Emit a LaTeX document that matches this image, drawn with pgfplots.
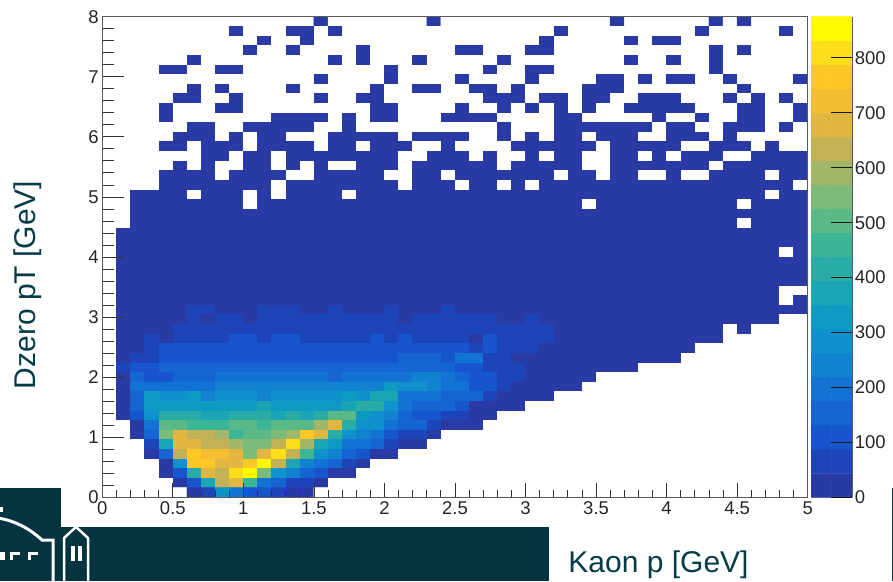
\documentclass[border=0pt]{standalone}
\usepackage{pgfplots}
\pgfplotsset{compat=1.18}
\usepackage{fontspec}
\setmainfont{Liberation Sans}
\definecolor{teal0}{RGB}{3,52,64}
\definecolor{teal1}{RGB}{5,60,72}
\pgfplotsset{
  colormap={rootbird}{
    rgb255=(255,255,255) rgb255=(42,58,165) rgb255=(30,68,185) rgb255=(22,85,205) rgb255=(20,100,210)
    rgb255=(18,115,212) rgb255=(16,130,208) rgb255=(14,145,205) rgb255=(14,155,195) rgb255=(25,165,180)
    rgb255=(40,172,165) rgb255=(60,180,150) rgb255=(90,185,135) rgb255=(125,187,120) rgb255=(160,182,105)
    rgb255=(195,178,85) rgb255=(225,182,65) rgb255=(245,190,50) rgb255=(253,200,38) rgb255=(253,222,25)
    rgb255=(255,250,0)},
  colormap access=piecewise constant,
  point meta min=-43.75, point meta max=875
}
\begin{document}
\begin{tikzpicture}[x=1pt,y=1pt]
\path[use as bounding box] (0,0) rectangle (893,581);
% main histogram, x ticks
\begin{axis}[
  at={(102.3pt,83.7pt)},anchor=south west,scale only axis,width=705.4pt,height=480.6pt,
  xmin=0,xmax=5,ymin=0,ymax=8,axis on top,
  axis line style={draw=black!65,line width=1.2pt},
  tick align=inside,tick pos=left,
  tick style={black!80,line width=0.8pt},
  major tick length=14pt,minor tick length=7pt,
  xtick={0,0.5,1,1.5,2,2.5,3,3.5,4,4.5,5},
  xticklabels={0,0.5,1,1.5,2,2.5,3,3.5,4,4.5,5},
  minor x tick num=4,
  ymajorticks=false,
  tick label style={font=\fontsize{18.5}{20}\selectfont,text=black!85},
  xticklabel style={yshift=-1pt},
]
\addplot[matrix plot*,mesh/cols=50,point meta=explicit,shader=flat corner]
 table[row sep=\\,header=false,x expr={0.1*(\coordindex-50*floor((\coordindex+0.5)/50)+0.5)},y expr={8-0.16*(floor((\coordindex+0.5)/50)+0.5)},meta index=0]{
-1\\-1\\-1\\-1\\-1\\-1\\-1\\-1\\-1\\-1\\-1\\-1\\-1\\-1\\-1\\5\\-1\\-1\\-1\\-1\\-1\\-1\\-1\\5\\-1\\-1\\-1\\-1\\-1\\-1\\-1\\-1\\-1\\-1\\-1\\-1\\5\\-1\\-1\\-1\\-1\\-1\\-1\\5\\-1\\5\\-1\\-1\\-1\\-1\\
-1\\-1\\-1\\-1\\-1\\-1\\-1\\-1\\-1\\5\\-1\\-1\\-1\\5\\5\\-1\\5\\-1\\-1\\-1\\-1\\-1\\-1\\-1\\-1\\-1\\-1\\-1\\-1\\-1\\-1\\-1\\5\\-1\\-1\\-1\\-1\\-1\\-1\\-1\\-1\\-1\\5\\-1\\-1\\-1\\-1\\-1\\5\\-1\\
-1\\-1\\-1\\-1\\-1\\-1\\-1\\-1\\-1\\-1\\-1\\5\\-1\\-1\\5\\-1\\-1\\-1\\-1\\-1\\-1\\-1\\-1\\-1\\-1\\-1\\-1\\-1\\-1\\-1\\-1\\5\\-1\\-1\\-1\\-1\\-1\\5\\-1\\5\\5\\-1\\-1\\-1\\-1\\-1\\-1\\-1\\-1\\-1\\
-1\\-1\\-1\\-1\\-1\\-1\\-1\\-1\\-1\\-1\\5\\-1\\-1\\5\\-1\\-1\\-1\\-1\\5\\-1\\-1\\-1\\-1\\-1\\-1\\5\\5\\-1\\-1\\-1\\5\\5\\-1\\-1\\-1\\-1\\-1\\-1\\-1\\-1\\-1\\-1\\-1\\5\\-1\\5\\-1\\-1\\-1\\-1\\
-1\\-1\\-1\\-1\\-1\\-1\\5\\-1\\-1\\-1\\-1\\-1\\-1\\-1\\-1\\-1\\5\\-1\\5\\-1\\-1\\-1\\5\\-1\\-1\\-1\\-1\\-1\\5\\-1\\-1\\-1\\-1\\-1\\-1\\-1\\-1\\5\\-1\\-1\\5\\-1\\-1\\5\\-1\\-1\\-1\\-1\\-1\\-1\\
-1\\-1\\-1\\-1\\5\\5\\-1\\-1\\5\\5\\-1\\-1\\-1\\-1\\-1\\-1\\-1\\-1\\-1\\-1\\5\\-1\\-1\\-1\\-1\\-1\\-1\\5\\-1\\-1\\5\\5\\-1\\-1\\-1\\-1\\-1\\-1\\-1\\-1\\-1\\-1\\-1\\5\\-1\\-1\\-1\\-1\\-1\\-1\\
-1\\-1\\-1\\-1\\-1\\-1\\-1\\-1\\-1\\-1\\-1\\-1\\-1\\-1\\-1\\5\\-1\\-1\\-1\\-1\\5\\-1\\-1\\-1\\-1\\5\\-1\\-1\\-1\\-1\\5\\-1\\-1\\-1\\-1\\5\\5\\-1\\5\\-1\\5\\5\\-1\\-1\\5\\-1\\-1\\-1\\-1\\5\\
-1\\-1\\-1\\-1\\-1\\-1\\5\\-1\\5\\-1\\-1\\-1\\-1\\5\\-1\\-1\\-1\\-1\\-1\\5\\-1\\-1\\5\\5\\-1\\-1\\5\\5\\-1\\5\\-1\\-1\\-1\\-1\\5\\5\\5\\-1\\-1\\-1\\-1\\-1\\-1\\-1\\-1\\5\\-1\\-1\\-1\\-1\\
-1\\-1\\-1\\-1\\-1\\5\\5\\-1\\-1\\5\\-1\\-1\\-1\\-1\\-1\\5\\-1\\-1\\5\\5\\-1\\-1\\-1\\-1\\-1\\-1\\-1\\5\\5\\5\\-1\\5\\5\\-1\\5\\5\\-1\\-1\\5\\5\\5\\-1\\-1\\-1\\5\\-1\\5\\-1\\5\\-1\\
-1\\-1\\-1\\-1\\5\\-1\\-1\\-1\\5\\5\\-1\\-1\\-1\\-1\\-1\\-1\\-1\\-1\\-1\\5\\5\\-1\\-1\\-1\\-1\\5\\-1\\-1\\5\\-1\\5\\-1\\5\\-1\\5\\-1\\-1\\5\\5\\5\\5\\5\\-1\\-1\\-1\\5\\5\\-1\\-1\\5\\
-1\\-1\\-1\\-1\\5\\-1\\-1\\-1\\-1\\-1\\-1\\-1\\5\\5\\5\\5\\-1\\5\\-1\\5\\5\\-1\\-1\\-1\\5\\5\\5\\5\\-1\\-1\\-1\\-1\\5\\5\\-1\\-1\\-1\\-1\\-1\\5\\-1\\-1\\5\\-1\\-1\\5\\5\\-1\\-1\\5\\
-1\\-1\\-1\\-1\\-1\\-1\\5\\5\\-1\\-1\\5\\5\\5\\5\\5\\-1\\-1\\5\\-1\\-1\\-1\\-1\\-1\\-1\\-1\\-1\\-1\\-1\\5\\-1\\-1\\-1\\5\\5\\5\\5\\5\\5\\5\\-1\\5\\5\\-1\\-1\\5\\5\\5\\-1\\5\\-1\\
-1\\-1\\-1\\-1\\-1\\5\\5\\5\\-1\\5\\-1\\5\\5\\-1\\-1\\-1\\5\\5\\5\\5\\5\\-1\\5\\5\\5\\5\\-1\\-1\\5\\-1\\5\\-1\\5\\5\\-1\\5\\5\\5\\-1\\-1\\5\\5\\5\\-1\\5\\-1\\-1\\-1\\-1\\-1\\
-1\\-1\\-1\\-1\\5\\5\\-1\\5\\5\\5\\-1\\5\\5\\5\\5\\-1\\5\\5\\-1\\5\\5\\5\\-1\\-1\\5\\-1\\-1\\-1\\-1\\5\\5\\5\\5\\5\\5\\-1\\5\\5\\5\\5\\5\\-1\\-1\\5\\5\\5\\-1\\5\\-1\\-1\\
-1\\-1\\-1\\-1\\-1\\-1\\-1\\5\\5\\-1\\5\\5\\-1\\5\\5\\5\\5\\5\\5\\5\\5\\-1\\-1\\5\\5\\5\\-1\\5\\-1\\-1\\5\\-1\\5\\5\\-1\\-1\\5\\5\\-1\\5\\-1\\5\\5\\5\\-1\\-1\\5\\5\\5\\5\\
-1\\-1\\-1\\-1\\-1\\5\\-1\\5\\-1\\-1\\5\\5\\-1\\5\\-1\\5\\-1\\-1\\5\\5\\5\\-1\\5\\5\\5\\5\\5\\5\\-1\\5\\5\\5\\5\\5\\-1\\-1\\5\\5\\5\\5\\5\\5\\5\\-1\\5\\5\\5\\5\\5\\5\\
-1\\-1\\-1\\-1\\5\\5\\5\\5\\-1\\5\\5\\5\\5\\-1\\-1\\5\\5\\5\\5\\5\\-1\\-1\\5\\5\\-1\\5\\5\\5\\5\\5\\5\\5\\-1\\5\\5\\-1\\5\\5\\-1\\-1\\5\\-1\\-1\\5\\5\\5\\5\\-1\\5\\5\\
-1\\-1\\-1\\-1\\5\\5\\5\\5\\5\\5\\5\\5\\-1\\5\\5\\5\\5\\5\\5\\5\\5\\-1\\5\\5\\5\\-1\\5\\5\\-1\\5\\-1\\5\\5\\5\\5\\5\\5\\5\\5\\5\\5\\5\\5\\5\\5\\5\\5\\5\\5\\-1\\
-1\\-1\\9\\9\\9\\9\\-1\\9\\9\\9\\-1\\9\\-1\\9\\9\\9\\9\\-1\\9\\9\\9\\9\\9\\9\\9\\9\\9\\9\\9\\9\\9\\9\\9\\9\\9\\9\\9\\9\\9\\9\\9\\9\\9\\9\\9\\9\\9\\-1\\9\\9\\
-1\\-1\\9\\9\\9\\9\\9\\9\\9\\9\\-1\\9\\9\\9\\9\\9\\9\\9\\9\\9\\9\\9\\9\\9\\9\\9\\9\\9\\9\\9\\9\\9\\9\\9\\-1\\9\\9\\9\\9\\9\\9\\9\\9\\9\\9\\-1\\9\\9\\9\\9\\
-1\\-1\\9\\9\\9\\9\\9\\9\\9\\9\\9\\9\\9\\9\\9\\9\\9\\9\\9\\9\\9\\9\\9\\9\\9\\9\\9\\9\\9\\9\\9\\9\\9\\9\\9\\9\\9\\9\\9\\9\\9\\9\\9\\9\\9\\9\\9\\9\\9\\9\\
-1\\-1\\9\\9\\9\\9\\9\\9\\9\\9\\9\\9\\9\\9\\9\\9\\9\\9\\9\\9\\9\\9\\9\\9\\9\\9\\9\\9\\9\\9\\9\\9\\9\\9\\9\\9\\9\\9\\9\\9\\9\\9\\9\\9\\9\\-1\\9\\9\\9\\9\\
-1\\9\\9\\9\\9\\9\\9\\9\\9\\9\\9\\9\\9\\9\\9\\9\\9\\9\\9\\9\\9\\9\\9\\9\\9\\9\\9\\9\\9\\9\\9\\9\\9\\9\\9\\9\\9\\9\\9\\9\\9\\9\\9\\9\\9\\9\\9\\9\\9\\9\\
-1\\9\\9\\9\\9\\9\\9\\9\\9\\9\\9\\9\\9\\9\\9\\9\\9\\9\\9\\9\\9\\9\\9\\9\\9\\9\\9\\9\\9\\9\\9\\9\\9\\9\\9\\9\\9\\9\\9\\9\\9\\9\\9\\9\\9\\9\\9\\9\\9\\9\\
-1\\9\\9\\9\\9\\9\\9\\9\\9\\9\\9\\9\\9\\9\\9\\9\\9\\9\\9\\9\\9\\9\\9\\9\\9\\9\\9\\9\\9\\9\\9\\9\\9\\9\\9\\9\\9\\9\\9\\9\\9\\9\\9\\9\\9\\9\\9\\9\\-1\\9\\
-1\\9\\9\\9\\9\\9\\9\\9\\9\\9\\9\\9\\9\\9\\9\\9\\9\\9\\9\\9\\9\\9\\9\\9\\9\\9\\9\\9\\9\\9\\9\\9\\9\\9\\9\\9\\9\\9\\9\\9\\9\\9\\9\\9\\9\\9\\9\\9\\9\\9\\
-1\\9\\9\\9\\9\\9\\9\\9\\9\\9\\9\\9\\9\\9\\9\\9\\9\\9\\9\\9\\9\\9\\9\\9\\9\\9\\9\\9\\9\\9\\9\\9\\9\\9\\9\\9\\9\\9\\9\\9\\9\\9\\9\\9\\9\\9\\9\\9\\9\\9\\
-1\\9\\9\\9\\9\\9\\9\\9\\9\\9\\9\\9\\9\\9\\9\\9\\9\\9\\9\\9\\9\\9\\9\\9\\9\\9\\9\\9\\9\\9\\9\\9\\9\\9\\9\\9\\9\\9\\9\\9\\9\\9\\9\\9\\9\\9\\9\\9\\9\\9\\
-1\\9\\9\\9\\9\\9\\9\\9\\9\\9\\9\\9\\9\\9\\9\\9\\9\\9\\9\\9\\9\\9\\9\\9\\9\\9\\9\\9\\9\\9\\9\\9\\9\\9\\9\\9\\9\\9\\9\\9\\9\\9\\9\\9\\9\\9\\9\\9\\-1\\-1\\
-1\\9\\9\\9\\9\\9\\9\\9\\9\\9\\9\\9\\9\\9\\9\\9\\9\\9\\9\\9\\9\\9\\9\\9\\9\\9\\9\\9\\9\\9\\9\\9\\9\\9\\9\\9\\9\\9\\9\\9\\9\\9\\9\\9\\9\\9\\9\\9\\-1\\9\\
-1\\20\\20\\20\\20\\20\\65\\65\\20\\20\\20\\65\\65\\65\\20\\20\\65\\20\\20\\20\\65\\20\\20\\20\\65\\20\\20\\20\\20\\20\\20\\20\\20\\20\\20\\20\\20\\20\\20\\20\\20\\20\\20\\20\\20\\20\\20\\20\\20\\20\\
-1\\20\\20\\20\\20\\20\\65\\20\\65\\65\\20\\65\\65\\65\\65\\65\\65\\65\\65\\65\\65\\20\\65\\65\\65\\65\\65\\65\\20\\20\\65\\20\\20\\20\\20\\20\\20\\20\\20\\20\\20\\20\\20\\20\\20\\20\\20\\20\\-1\\-1\\
-1\\20\\20\\20\\20\\65\\65\\65\\65\\65\\65\\65\\65\\65\\65\\65\\65\\65\\65\\65\\65\\65\\65\\65\\65\\65\\65\\65\\65\\65\\65\\65\\20\\20\\20\\20\\20\\20\\20\\20\\20\\20\\20\\20\\-1\\20\\-1\\-1\\-1\\-1\\
-1\\20\\20\\65\\20\\65\\65\\65\\65\\110\\110\\65\\110\\110\\65\\65\\65\\65\\65\\110\\65\\110\\65\\65\\65\\65\\20\\110\\65\\65\\65\\65\\20\\20\\20\\20\\20\\20\\20\\20\\20\\20\\20\\20\\-1\\-1\\-1\\-1\\-1\\-1\\
-1\\20\\20\\65\\110\\110\\110\\110\\110\\110\\110\\110\\110\\110\\110\\110\\110\\110\\110\\110\\110\\110\\110\\110\\110\\110\\65\\110\\65\\65\\65\\20\\20\\20\\20\\20\\20\\20\\20\\20\\20\\20\\-1\\-1\\-1\\-1\\-1\\-1\\-1\\-1\\
-1\\20\\65\\65\\110\\110\\110\\110\\110\\110\\110\\110\\110\\110\\110\\110\\110\\110\\110\\110\\110\\153\\153\\153\\110\\197\\197\\65\\65\\20\\20\\20\\20\\20\\20\\20\\20\\20\\20\\20\\20\\-1\\-1\\-1\\-1\\-1\\-1\\-1\\-1\\-1\\
-1\\65\\110\\110\\153\\153\\153\\153\\153\\153\\153\\153\\153\\153\\153\\153\\153\\153\\153\\153\\153\\153\\153\\153\\153\\110\\110\\65\\65\\65\\20\\20\\20\\20\\20\\20\\20\\20\\-1\\-1\\-1\\-1\\-1\\-1\\-1\\-1\\-1\\-1\\-1\\-1\\
-1\\20\\153\\110\\110\\153\\153\\153\\197\\197\\197\\197\\197\\197\\197\\197\\153\\197\\197\\197\\197\\197\\240\\240\\197\\153\\110\\110\\65\\65\\20\\20\\20\\20\\20\\-1\\-1\\-1\\-1\\-1\\-1\\-1\\-1\\-1\\-1\\-1\\-1\\-1\\-1\\-1\\
-1\\20\\197\\197\\197\\197\\197\\197\\240\\240\\240\\240\\240\\240\\240\\240\\240\\240\\240\\240\\328\\284\\284\\240\\197\\197\\110\\110\\65\\20\\20\\20\\20\\20\\-1\\-1\\-1\\-1\\-1\\-1\\-1\\-1\\-1\\-1\\-1\\-1\\-1\\-1\\-1\\-1\\
-1\\20\\153\\328\\284\\284\\328\\240\\284\\284\\284\\240\\284\\284\\284\\284\\284\\328\\284\\372\\372\\197\\197\\197\\153\\153\\153\\65\\20\\20\\20\\20\\-1\\-1\\-1\\-1\\-1\\-1\\-1\\-1\\-1\\-1\\-1\\-1\\-1\\-1\\-1\\-1\\-1\\-1\\
-1\\20\\153\\328\\328\\328\\328\\328\\328\\328\\328\\372\\328\\328\\328\\328\\328\\372\\416\\416\\284\\197\\153\\153\\153\\110\\20\\20\\20\\20\\-1\\-1\\-1\\-1\\-1\\-1\\-1\\-1\\-1\\-1\\-1\\-1\\-1\\-1\\-1\\-1\\-1\\-1\\-1\\-1\\
-1\\20\\110\\284\\416\\416\\416\\372\\372\\416\\416\\416\\372\\416\\372\\416\\503\\503\\328\\284\\240\\153\\110\\110\\65\\65\\20\\20\\-1\\-1\\-1\\-1\\-1\\-1\\-1\\-1\\-1\\-1\\-1\\-1\\-1\\-1\\-1\\-1\\-1\\-1\\-1\\-1\\-1\\-1\\
-1\\-1\\20\\197\\503\\503\\459\\459\\459\\503\\503\\459\\503\\503\\503\\590\\678\\416\\284\\284\\197\\153\\153\\65\\20\\20\\20\\-1\\-1\\-1\\-1\\-1\\-1\\-1\\-1\\-1\\-1\\-1\\-1\\-1\\-1\\-1\\-1\\-1\\-1\\-1\\-1\\-1\\-1\\-1\\
-1\\-1\\20\\153\\547\\678\\634\\634\\590\\459\\503\\503\\547\\590\\766\\678\\416\\284\\240\\197\\110\\65\\65\\20\\-1\\-1\\-1\\-1\\-1\\-1\\-1\\-1\\-1\\-1\\-1\\-1\\-1\\-1\\-1\\-1\\-1\\-1\\-1\\-1\\-1\\-1\\-1\\-1\\-1\\-1\\
-1\\-1\\-1\\65\\372\\678\\678\\634\\634\\590\\547\\547\\634\\809\\590\\372\\328\\197\\197\\153\\65\\20\\20\\-1\\-1\\-1\\-1\\-1\\-1\\-1\\-1\\-1\\-1\\-1\\-1\\-1\\-1\\-1\\-1\\-1\\-1\\-1\\-1\\-1\\-1\\-1\\-1\\-1\\-1\\-1\\
-1\\-1\\-1\\20\\153\\634\\766\\722\\722\\678\\547\\678\\809\\634\\459\\284\\240\\153\\110\\20\\20\\-1\\-1\\-1\\-1\\-1\\-1\\-1\\-1\\-1\\-1\\-1\\-1\\-1\\-1\\-1\\-1\\-1\\-1\\-1\\-1\\-1\\-1\\-1\\-1\\-1\\-1\\-1\\-1\\-1\\
-1\\-1\\-1\\-1\\20\\284\\766\\766\\678\\678\\766\\853\\634\\372\\240\\197\\153\\65\\20\\-1\\-1\\-1\\-1\\-1\\-1\\-1\\-1\\-1\\-1\\-1\\-1\\-1\\-1\\-1\\-1\\-1\\-1\\-1\\-1\\-1\\-1\\-1\\-1\\-1\\-1\\-1\\-1\\-1\\-1\\-1\\
-1\\-1\\-1\\-1\\20\\110\\416\\678\\634\\809\\853\\547\\284\\240\\153\\110\\20\\20\\-1\\-1\\-1\\-1\\-1\\-1\\-1\\-1\\-1\\-1\\-1\\-1\\-1\\-1\\-1\\-1\\-1\\-1\\-1\\-1\\-1\\-1\\-1\\-1\\-1\\-1\\-1\\-1\\-1\\-1\\-1\\-1\\
-1\\-1\\-1\\-1\\-1\\20\\110\\372\\634\\678\\459\\197\\153\\65\\65\\20\\-1\\-1\\-1\\-1\\-1\\-1\\-1\\-1\\-1\\-1\\-1\\-1\\-1\\-1\\-1\\-1\\-1\\-1\\-1\\-1\\-1\\-1\\-1\\-1\\-1\\-1\\-1\\-1\\-1\\-1\\-1\\-1\\-1\\-1\\
-1\\-1\\-1\\-1\\-1\\-1\\20\\65\\284\\197\\110\\110\\65\\20\\20\\-1\\-1\\-1\\-1\\-1\\-1\\-1\\-1\\-1\\-1\\-1\\-1\\-1\\-1\\-1\\-1\\-1\\-1\\-1\\-1\\-1\\-1\\-1\\-1\\-1\\-1\\-1\\-1\\-1\\-1\\-1\\-1\\-1\\-1\\-1\\
};
\end{axis}
% y ticks of the main axis
\begin{axis}[
  at={(102.3pt,83.7pt)},anchor=south west,scale only axis,width=705.4pt,height=480.6pt,
  xmin=0,xmax=5,ymin=0,ymax=8,
  axis line style={draw=black!65,line width=1.2pt},
  tick align=inside,tick pos=left,
  tick style={black!80,line width=0.8pt},
  major tick length=22pt,minor tick length=12pt,
  xmajorticks=false,
  ytick={0,1,2,3,4,5,6,7,8},minor y tick num=4,
  tick label style={font=\fontsize{18.5}{20}\selectfont,text=black!85},
  /pgf/number format/assume math mode=true,
]
\end{axis}
% colour bar
\begin{axis}[
  at={(811pt,83.7pt)},anchor=south west,scale only axis,width=41.3pt,height=480.6pt,
  xmin=0,xmax=1,ymin=0,ymax=875,axis on top,
  axis x line=none,axis y line=right,
  axis line style={-,draw=black!65,line width=1pt},
  tick align=inside,tick style={black!90,line width=0.8pt},
  major tick length=21pt,
  ytick={0,100,200,300,400,500,600,700,800},
  tick label style={font=\fontsize{18.5}{20}\selectfont,text=black!85},
  /pgf/number format/assume math mode=true,
  yticklabel style={xshift=-1pt},
]
\addplot[matrix plot*,mesh/cols=2,point meta=explicit,shader=flat corner] table[meta index=2,row sep=\\,header=false]{
0.25 21.875 20\\0.75 21.875 20\\0.25 65.625 65\\0.75 65.625 65\\0.25 109.375 110\\0.75 109.375 110\\0.25 153.125 153\\0.75 153.125 153\\
0.25 196.875 197\\0.75 196.875 197\\0.25 240.625 240\\0.75 240.625 240\\0.25 284.375 284\\0.75 284.375 284\\0.25 328.125 328\\0.75 328.125 328\\
0.25 371.875 372\\0.75 371.875 372\\0.25 415.625 416\\0.75 415.625 416\\0.25 459.375 459\\0.75 459.375 459\\0.25 503.125 503\\0.75 503.125 503\\
0.25 546.875 547\\0.75 546.875 547\\0.25 590.625 590\\0.75 590.625 590\\0.25 634.375 634\\0.75 634.375 634\\0.25 678.125 678\\0.75 678.125 678\\
0.25 721.875 722\\0.75 721.875 722\\0.25 765.625 766\\0.75 765.625 766\\0.25 809.375 809\\0.75 809.375 809\\0.25 853.125 853\\0.75 853.125 853\\
};
\end{axis}
% slide furniture
\fill[teal0] (0,54) rectangle (549,0);
\fill[teal0] (0,93) rectangle (61,54);
\fill[teal0] (892,93) rectangle (893,0);
\draw[white,line width=3pt] (-2,63) .. controls (16,60) and (30,52) .. (42,41) -- (53,41) -- (53,-2);
\fill[white] (0,74) rectangle (3,69);
\fill[white] (0,29) rectangle (5,21);
\fill[white] (10,29) rectangle (20,26);\fill[white] (10,26) rectangle (13,21);
\fill[white] (28,29) rectangle (38,26);\fill[white] (28,26) rectangle (31,21);
\draw[white,line width=2.5pt,line join=round] (64,-2) -- (64,43) -- (76,54) -- (88,43) -- (88,-2);
\fill[white] (71,35) rectangle (75,20);
\fill[white] (78,35) rectangle (82,20);
\node[text=teal1,font=\fontsize{30}{32}\selectfont] at (658.5,16) {Kaon p [GeV]};
\node[text=teal1,font=\fontsize{30}{32}\selectfont,rotate=90] at (28,296) {Dzero pT [GeV]};
\end{tikzpicture}
\end{document}
